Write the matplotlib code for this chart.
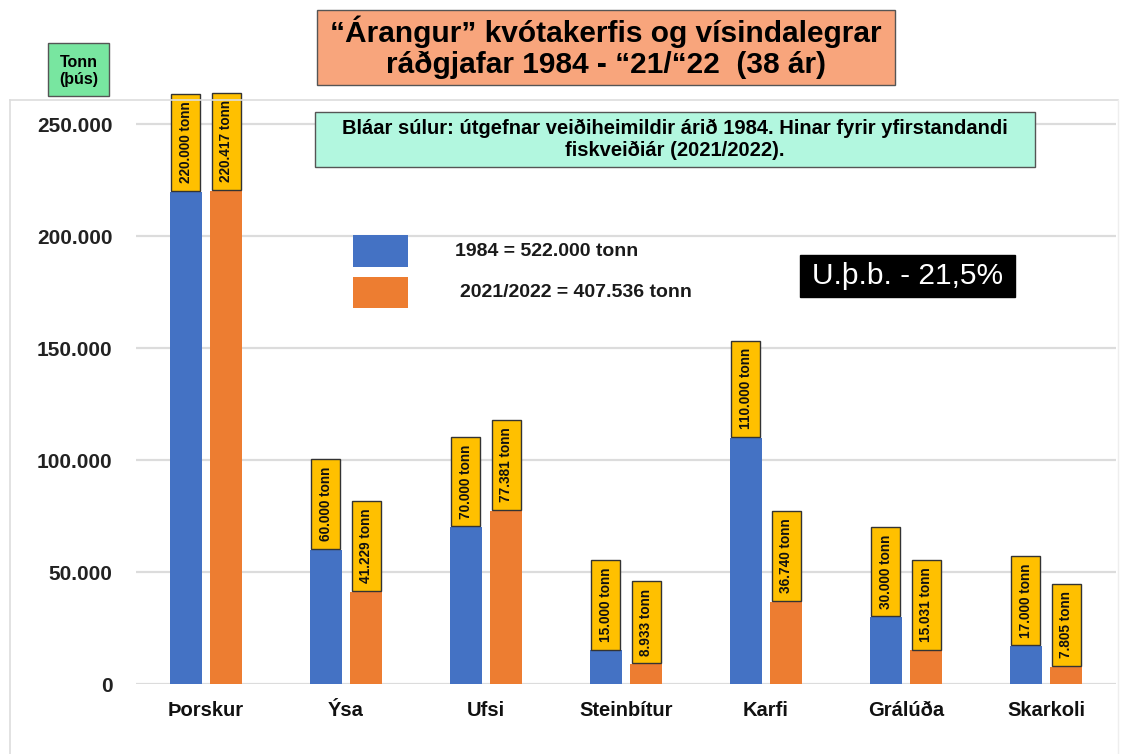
import matplotlib
matplotlib.use("Agg")
import matplotlib.pyplot as plt
from matplotlib.patches import Rectangle
import numpy as np

plt.rcParams['font.family'] = ['Liberation Sans', 'DejaVu Sans']

# data
species = ['Þorskur', 'Ýsa', 'Ufsi', 'Steinbítur', 'Karfi', 'Grálúða', 'Skarkoli']
tonn_1984 = [220000, 60000, 70000, 15000, 110000, 30000, 17000]
tonn_2122 = [220417, 41229, 77381, 8933, 36740, 15031, 7805]
legend_labels = ['1984 = 522.000 tonn', '2021/2022 = 407.536 tonn']
yticks = [0, 50000, 100000, 150000, 200000, 250000]

BLUE = '#4472C4'
ORANGE = '#ED7D31'
GOLD = '#FFC000'

W, H = 1126, 754
fig = plt.figure(figsize=(W / 100, H / 100), dpi=100)
fig.patch.set_facecolor('white')


def px_box(x0, y0, x1, y1, fc, ec='#555555', lw=1.0, z=1):
    # rectangle given in pixel coords (top-left origin)
    r = Rectangle((x0 / W, 1 - y1 / H), (x1 - x0) / W, (y1 - y0) / H,
                  transform=fig.transFigure, facecolor=fc, edgecolor=ec,
                  linewidth=lw, zorder=z)
    fig.patches.append(r)
    return ((x0 + x1) / 2 / W, 1 - (y0 + y1) / 2 / H)


def fmt(v):
    return f"{v:,}".replace(',', '.')


# faint outer frame of the chart area
fig.add_artist(plt.Line2D([10 / W, 10 / W], [0, 1 - 100 / H], transform=fig.transFigure,
                          color='#dddddd', lw=1.2))
fig.add_artist(plt.Line2D([10 / W, 1118 / W], [1 - 100 / H, 1 - 100 / H],
                          transform=fig.transFigure, color='#dddddd', lw=1.2))
fig.add_artist(plt.Line2D([1118 / W, 1118 / W], [0, 1 - 100 / H], transform=fig.transFigure,
                          color='#eeeeee', lw=1.0))

ax = fig.add_axes([136 / W, 1 - 684 / H, 980 / W, 582 / H])
ax.set_xlim(-0.5, len(species) - 0.5)
ax.set_ylim(0, 260000)
for s in ax.spines.values():
    s.set_visible(False)
ax.set_yticks(yticks)
ax.set_yticklabels([fmt(t) for t in yticks], fontsize=15, fontweight='bold', color='#222222')
ax.yaxis.grid(True, color='#dcdcdc', lw=1.6)
ax.set_axisbelow(True)
ax.tick_params(axis='y', length=0, pad=17)
x = np.arange(len(species))
ax.set_xticks(x)
ax.set_xticklabels(species, fontsize=14.5, fontweight='bold', color='#111111')
ax.tick_params(axis='x', length=0, pad=12)

off = 0.143
bw = 0.23
ax.bar(x - off, tonn_1984, bw, color=BLUE, zorder=2)
ax.bar(x + off, tonn_2122, bw, color=ORANGE, zorder=2)

for xs, vals in ((x - off, tonn_1984), (x + off, tonn_2122)):
    for xi, v in zip(xs, vals):
        ax.annotate(f"{fmt(v)} tonn", (xi, v), xytext=(0, 6), textcoords='offset points',
                    rotation=90, ha='center', va='bottom', fontsize=9.8, fontweight='bold',
                    color='#111111', zorder=3,
                    bbox=dict(boxstyle='square,pad=0.55', fc=GOLD, ec='#333333', lw=1))

# legend squares and texts
for (y0, y1, tx), col, lab in zip([(235, 267, 455), (277, 308, 460)], [BLUE, ORANGE],
                                  legend_labels):
    px_box(353, y0, 408, y1, col, ec='none', z=5)
    fig.text(tx / W, 1 - (y0 + y1) / 2 / H, lab, ha='left', va='center',
             fontsize=14, fontweight='bold', color='#1a1a1a', zorder=6)

# title box
cx, cy = px_box(317, 10, 895, 85, '#F8A57C')
fig.text(cx, cy, "“Árangur” kvótakerfis og vísindalegrar\nráðgjafar 1984 - “21/“22  (38 ár)",
         ha='center', va='center', fontsize=21.5, fontweight='bold', linespacing=1.1)

# unit box
cx, cy = px_box(48, 43, 109, 96, '#78E6A0')
fig.text(cx, cy - 0.002, "Tonn\n(þús)", ha='center', va='center', fontsize=11.5,
         fontweight='bold', linespacing=1.15)

# note box
cx, cy = px_box(315, 112, 1035, 167, '#B2F7DF', z=5)
fig.text(cx, cy, "Bláar súlur: útgefnar veiðiheimildir árið 1984. Hinar fyrir yfirstandandi\n"
         "fiskveiðiár (2021/2022).", ha='center', va='center', fontsize=14.5,
         fontweight='bold', linespacing=1.15, zorder=6)

# percentage box
cx, cy = px_box(800, 255, 1015, 297, 'black', ec='black', z=5)
fig.text(cx, cy, "U.þ.b. - 21,5%", ha='center', va='center', fontsize=21.5,
         color='white', zorder=6)

fig.savefig('out.png', dpi=100)
